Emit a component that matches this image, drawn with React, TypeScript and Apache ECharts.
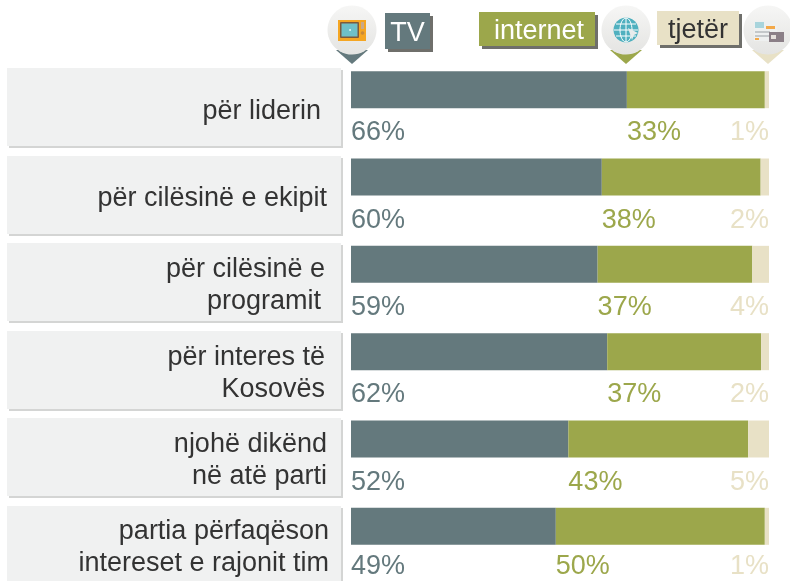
import React, { useEffect, useRef } from "react";
import * as echarts from "echarts";

const categories = [
  "për liderin",
  "për cilësinë e ekipit",
  "për cilësinë e\nprogramit",
  "për interes të\nKosovës",
  "njohë dikënd\nnë atë parti",
  "partia përfaqëson\nintereset e rajonit tim",
];
const tvValues = [66, 60, 59, 61.3, 52, 49];
const internetValues = [33, 38, 37, 36.8, 43, 50];
const otherValues = [1, 2, 4, 1.9, 5, 1];
const tvLabels = ["66%", "60%", "59%", "62%", "52%", "49%"];
const internetLabels = ["33%", "38%", "37%", "37%", "43%", "50%"];
const otherLabels = ["1%", "2%", "4%", "2%", "5%", "1%"];
const linePads = [[8], [2], [4, 8], [4, 4], [2, 2], [0, 0]];
const labelDrops = [60, 60, 60, 60, 60, 57];

const TV = "#64797d";
const NET = "#9ca74b";
const OTHER = "#e8e1c6";
const FONT = "Liberation Sans";
const FS = 27;

const boxTops = [68, 156, 243, 331, 418, 506];

const pinGradient = {
  type: "linear", x: 0, y: 0, x2: 0, y2: 1,
  colorStops: [{ offset: 0, color: "#f6f6f5" }, { offset: 1, color: "#e4e4e2" }],
};

function pin(cx: number, color: string) {
  return [
    { type: "polygon", z: 1, shape: { points: [[cx - 16, 50], [cx + 16, 50], [cx, 64]] }, style: { fill: color } },
    { type: "circle", z: 2, shape: { cx, cy: 30, r: 24.5 }, style: { fill: pinGradient } },
  ];
}

function legendBox(x: number, y: number, w: number, h: number, fill: string, text: string, color: string, dx: number) {
  return [
    { type: "rect", z: 1, shape: { x: x + 3, y: y + 3, width: w, height: h }, style: { fill: "#6f6f6b" } },
    { type: "rect", z: 2, shape: { x, y, width: w, height: h }, style: { fill } },
    {
      type: "text", z: 3, x: x + w / 2 + dx, y: y + h / 2 + 1,
      style: { text, fill: color, fontFamily: FONT, fontSize: FS, align: "center", verticalAlign: "middle" },
    },
  ];
}

function tvIcon() {
  return [
    { type: "rect", z: 3, shape: { x: 338, y: 20, width: 28, height: 21 }, style: { fill: "#f5a623" } },
    { type: "rect", z: 4, shape: { x: 340, y: 22, width: 19, height: 16, r: 1 }, style: { fill: "#7d5a3c" } },
    { type: "rect", z: 5, shape: { x: 341.5, y: 23.5, width: 16, height: 13 }, style: { fill: "#6fc0c8" } },
    { type: "rect", z: 5, shape: { x: 361, y: 22, width: 3, height: 7 }, style: { fill: "#c9a98a" } },
    { type: "circle", z: 5, shape: { cx: 362.5, cy: 33, r: 1.8 }, style: { fill: "#c88a3a" } },
    { type: "circle", z: 6, shape: { cx: 350, cy: 30, r: 0.8 }, style: { fill: "#ffffff" } },
  ];
}

function globeIcon() {
  const cx = 626, cy = 30;
  const line = { stroke: "#ffffff", lineWidth: 1, fill: "none" };
  return [
    { type: "circle", z: 3, shape: { cx, cy, r: 12.5 }, style: { fill: "#4fb0bf" } },
    { type: "ellipse", z: 4, shape: { cx, cy, rx: 6, ry: 12 }, style: line },
    { type: "line", z: 4, shape: { x1: cx, y1: cy - 12, x2: cx, y2: cy + 12 }, style: line },
    { type: "line", z: 4, shape: { x1: cx - 12, y1: cy, x2: cx + 12, y2: cy }, style: line },
    { type: "line", z: 4, shape: { x1: cx - 10, y1: cy - 6, x2: cx + 10, y2: cy - 6 }, style: line },
    { type: "line", z: 4, shape: { x1: cx - 10, y1: cy + 6, x2: cx + 10, y2: cy + 6 }, style: line },
    { type: "polygon", z: 5, shape: { points: [[628, 28], [638, 33], [634, 35], [632, 40]] }, style: { fill: "#e8ecec" } },
  ];
}

function pressIcon() {
  return [
    { type: "rect", z: 3, shape: { x: 754, y: 21, width: 23, height: 20 }, style: { fill: "#eef0f0" } },
    { type: "rect", z: 4, shape: { x: 755, y: 22, width: 9, height: 6 }, style: { fill: "#a8d4dc" } },
    { type: "rect", z: 4, shape: { x: 766, y: 26, width: 9, height: 3 }, style: { fill: "#f3a94a" } },
    { type: "rect", z: 4, shape: { x: 755, y: 31, width: 15, height: 2 }, style: { fill: "#c4c8ca" } },
    { type: "rect", z: 4, shape: { x: 755, y: 35, width: 15, height: 2 }, style: { fill: "#c4c8ca" } },
    { type: "rect", z: 4, shape: { x: 755, y: 38, width: 4, height: 2 }, style: { fill: "#f3a94a" } },
    { type: "rect", z: 5, shape: { x: 769, y: 32, width: 15, height: 10 }, style: { fill: "#8b7f87" } },
    { type: "rect", z: 6, shape: { x: 771, y: 35, width: 5, height: 4 }, style: { fill: "#e6e0dc" } },
  ];
}

const richStyle = (pad: number) => ({
  fontFamily: FONT, fontSize: FS, lineHeight: 32, color: "#333333", padding: [0, pad, 0, 0],
});

const withDrop = (values: number[], x: number | string) =>
  values.map((value, i) => ({ value, label: { position: [x, labelDrops[i]] } }));

const App = () => {
  const ref = useRef<HTMLDivElement>(null);
  useEffect(() => {
    const chart = echarts.init(ref.current!, undefined, { renderer: "svg" });
    const boxes = boxTops.flatMap((y) => [
      { type: "rect", z: -2, shape: { x: 9, y: y + 2, width: 334, height: 78 }, style: { fill: "#d4d5d4" } },
      { type: "rect", z: -1, shape: { x: 7, y, width: 334, height: 78 }, style: { fill: "#f0f1f1" } },
    ]);
    const labelStyle = { show: true, fontFamily: FONT, fontSize: FS, lineHeight: 22, verticalAlign: "middle" };
    const option = {
      animation: false,
      graphic: {
        elements: [
          ...boxes,
          ...pin(352, TV),
          ...pin(626, NET),
          ...pin(768, OTHER),
          ...tvIcon(),
          ...globeIcon(),
          ...pressIcon(),
          ...legendBox(385, 13, 45, 36, TV, "TV", "#ffffff", 0),
          ...legendBox(479, 12, 116, 34, NET, "internet", "#ffffff", 2),
          ...legendBox(657, 11, 82, 34, OTHER, "tjetër", "#333333", 0),
        ],
      },
      grid: { left: 351, top: 46, width: 418, height: 524 },
      xAxis: { type: "value", min: 0, max: 100, show: false },
      yAxis: {
        type: "category",
        data: categories,
        inverse: true,
        axisLine: { show: false },
        axisTick: { show: false },
        axisLabel: {
          margin: 22,
          align: "right",
          padding: [40, 0, 0, 0],
          formatter: (v: string, i: number) =>
            v.split("\n").map((line, k) => `{p${linePads[i][k]}|${line}}`).join("\n"),
          rich: { p0: richStyle(0), p2: richStyle(2), p4: richStyle(4), p8: richStyle(8) },
        },
      },
      series: [
        {
          name: "TV", type: "bar", stack: "a", barWidth: 37, data: withDrop(tvValues, 0),
          itemStyle: { color: TV },
          label: { ...labelStyle, align: "left", color: TV, formatter: (p: any) => tvLabels[p.dataIndex] },
        },
        {
          name: "internet", type: "bar", stack: "a", barWidth: 37, data: withDrop(internetValues, 0),
          itemStyle: { color: NET },
          label: { ...labelStyle, align: "left", color: NET, formatter: (p: any) => internetLabels[p.dataIndex] },
        },
        {
          name: "tjetër", type: "bar", stack: "a", barWidth: 37, data: withDrop(otherValues, "100%"),
          itemStyle: { color: OTHER },
          label: { ...labelStyle, align: "right", color: OTHER, formatter: (p: any) => otherLabels[p.dataIndex] },
        },
      ],
    };
    chart.setOption(option as any);
    return () => chart.dispose();
  }, []);
  return <div ref={ref} style={{ position: "fixed", left: 0, top: 0, width: 790, height: 581 }} />;
};

export default App;
